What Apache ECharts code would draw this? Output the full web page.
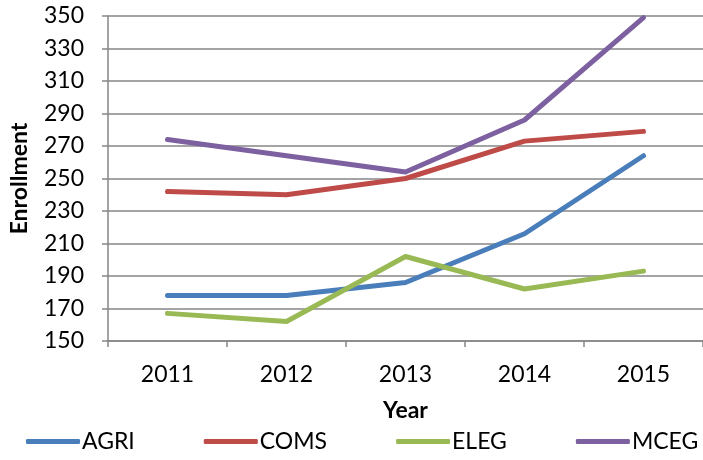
<!DOCTYPE html>
<html><head><meta charset="utf-8">
<script src="https://cdn.jsdelivr.net/npm/echarts@6/dist/echarts.min.js"></script>
<style>html,body{margin:0;padding:0;background:#fff}#c{width:703px;height:460px}</style>
</head><body><div id="c"></div>
<script>
const years = ['2011','2012','2013','2014','2015'];
const agri = [178, 178, 186, 216, 264];
const coms = [242, 240, 250, 273, 279];
const eleg = [167, 162, 202, 182, 193];
const mceg = [274, 264, 254, 286, 349];
const seriesNames = ['AGRI','COMS','ELEG','MCEG'];
const colors = ['#4A7EBB','#BE4B48','#98B954','#7D60A0'];
const font = 'Lato, "Open Sans", sans-serif';
const chart = echarts.init(document.getElementById('c'));
const mk = (name, data, color) => ({
  name, type: 'line', data, symbol: 'none', color,
  lineStyle: { width: 5, color, cap: 'round', join: 'round' }
});
chart.setOption({
  animation: false,
  grid: { left: 107, top: 16, width: 600, bottom: 119 },
  legend: {
    bottom: 7, left: 26, width: 677, padding: 0, itemGap: 69, itemWidth: 54, itemHeight: 5, icon: 'roundRect',
    textStyle: { fontFamily: font, fontSize: 23, color: '#000', padding: [0,0,0,-3] },
    data: seriesNames
  },
  xAxis: {
    type: 'category', data: years, boundaryGap: true,
    name: 'Year', nameLocation: 'middle', nameGap: 58,
    nameTextStyle: { fontFamily: font, fontSize: 23, fontWeight: 'bold', color: '#000' },
    axisLine: { lineStyle: { color: '#868686', width: 1.5 } },
    axisTick: { show: true, length: 6, lineStyle: { color: '#868686', width: 1.5 } },
    axisLabel: { fontFamily: font, fontSize: 23, color: '#000', margin: 22 }
  },
  yAxis: {
    type: 'value', min: 150, max: 350, interval: 20,
    name: 'Enrollment', nameLocation: 'middle', nameGap: 77, nameRotate: 90,
    nameTextStyle: { fontFamily: font, fontSize: 23, fontWeight: 'bold', color: '#000' },
    axisLine: { show: true, lineStyle: { color: '#868686', width: 1.5 } },
    axisTick: { show: true, length: 6, lineStyle: { color: '#868686', width: 1.5 } },
    splitLine: { lineStyle: { color: '#868686', width: 1.5 } },
    axisLabel: { fontFamily: font, fontSize: 23, color: '#000', margin: 24 }
  },
  series: [mk('AGRI', agri, colors[0]), mk('COMS', coms, colors[1]), mk('ELEG', eleg, colors[2]), mk('MCEG', mceg, colors[3])]
});
</script></body></html>
